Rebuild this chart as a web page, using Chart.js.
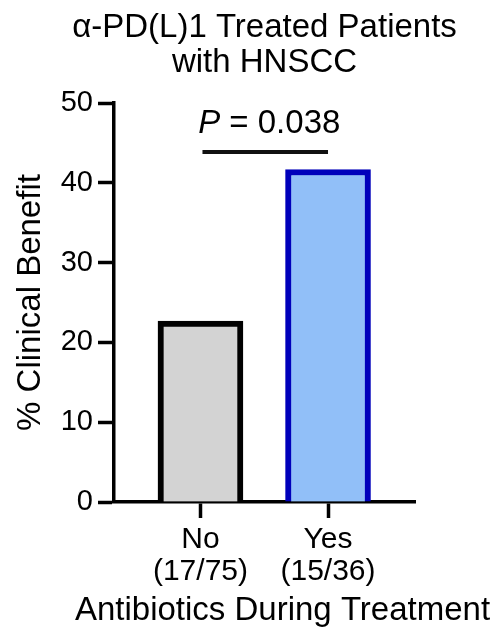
<!DOCTYPE html>
<html>
<head>
<meta charset="utf-8">
<script src="https://cdn.jsdelivr.net/npm/chart.js@4/dist/chart.umd.min.js"></script>
<style>
  html, body { margin: 0; padding: 0; background: #fff; }
  #wrap { width: 499px; height: 636px; }
</style>
</head>
<body>
<div id="wrap"><canvas id="myChart" width="499" height="636"></canvas></div>
<script>
// data
const categories = ['No', 'Yes'];
const counts = ['(17/75)', '(15/36)'];
const benefit = [22.67, 41.67];   // 17/75 and 15/36 as %
const yTicks = [0, 10, 20, 30, 40, 50];
const pValue = '0.038';

const titleLines = ['\u03b1-PD(L)1 Treated Patients', 'with HNSCC'];
const xTitle = 'Antibiotics During Treatment';
const yTitle = '% Clinical Benefit';

const FONT = '"Liberation Sans", Arial, Helvetica, sans-serif';

// titles + significance bar
const extraText = {
    id: 'extraText',
    afterDraw(chart) {
        const ctx = chart.ctx;
        const area = chart.chartArea;
        const xs = chart.scales.x;
        const ys = chart.scales.y;
        ctx.save();
        ctx.fillStyle = '#000';
        ctx.textAlign = 'center';
        ctx.textBaseline = 'alphabetic';

        // chart title
        ctx.font = '33px ' + FONT;
        const cx = (area.left + area.right) / 2;
        ctx.fillText(titleLines[0], cx, 37);
        ctx.fillText(titleLines[1], cx, 72);

        // x axis title
        ctx.fillText(xTitle, cx + 18, 620);

        // significance bracket
        const level = Math.max(...benefit) + 2.2;
        const by = ys.getPixelForValue(level);
        const x0 = xs.getPixelForValue(0) + 2;
        const x1 = xs.getPixelForValue(1);
        ctx.strokeStyle = '#111';
        ctx.lineWidth = 4;
        ctx.beginPath();
        ctx.moveTo(x0, by);
        ctx.lineTo(x1, by);
        ctx.stroke();

        // "P = 0.038", P in italics
        const rest = ' = ' + pValue;
        ctx.font = 'italic 33px ' + FONT;
        const wP = ctx.measureText('P').width;
        ctx.font = '33px ' + FONT;
        const wR = ctx.measureText(rest).width;
        const start = (x0 + x1) / 2 + 4 - (wP + wR) / 2;
        ctx.textAlign = 'left';
        ctx.font = 'italic 33px ' + FONT;
        ctx.fillText('P', start, by - 19);
        ctx.font = '33px ' + FONT;
        ctx.fillText(rest, start + wP, by - 19);
        ctx.restore();
    }
};

const ctx = document.querySelector('#myChart').getContext('2d');
const myChart = new Chart(ctx, {
    type: 'bar',
    data: {
        datasets: [{
            data: benefit.map((v, i) => ({ x: i, y: v })),
            backgroundColor: ['#d3d3d3', '#91bff8'],
            borderColor: ['#000000', '#0000bb'],
            borderWidth: 6,
            borderSkipped: 'start',
            barThickness: 85
        }]
    },
    options: {
        responsive: false,
        animation: false,
        events: [],
        layout: { padding: { top: 103, right: 84, bottom: 0, left: 0 } },
        plugins: {
            legend: { display: false },
            tooltip: { enabled: false },
            title: { display: false }
        },
        scales: {
            x: {
                type: 'linear',
                min: -0.678,
                max: 1.682,
                offset: false,
                z: 1,
                afterBuildTicks: (scale) => {
                    scale.ticks = categories.map((c, i) => ({ value: i }));
                },
                afterFit: (scale) => { scale.height = 134; },
                grid: {
                    offset: false,
                    drawOnChartArea: false,
                    tickLength: 16,
                    tickWidth: 3.5,
                    tickColor: '#000'
                },
                border: { color: '#000', width: 3.5 },
                ticks: {
                    padding: 6,
                    color: '#000',
                    font: { family: FONT, size: 30, lineHeight: 1.067 },
                    callback: (v) => [categories[v], counts[v]]
                }
            },
            y: {
                min: 0,
                max: 50,
                z: 1,
                afterBuildTicks: (scale) => {
                    scale.ticks = yTicks.map(v => ({ value: v }));
                },
                afterFit: (scale) => { scale.width = 114; },
                grid: {
                    drawOnChartArea: false,
                    tickLength: 16,
                    tickWidth: 3.5,
                    tickColor: '#000'
                },
                border: { color: '#000', width: 3.5 },
                ticks: {
                    padding: 5,
                    color: '#000',
                    font: { family: FONT, size: 29 }
                },
                title: {
                    display: true,
                    text: yTitle,
                    color: '#000',
                    padding: { top: 11, bottom: 0 },
                    font: { family: FONT, size: 33, lineHeight: 1.2 }
                }
            }
        }
    },
    plugins: [extraText]
});
</script>
</body>
</html>
